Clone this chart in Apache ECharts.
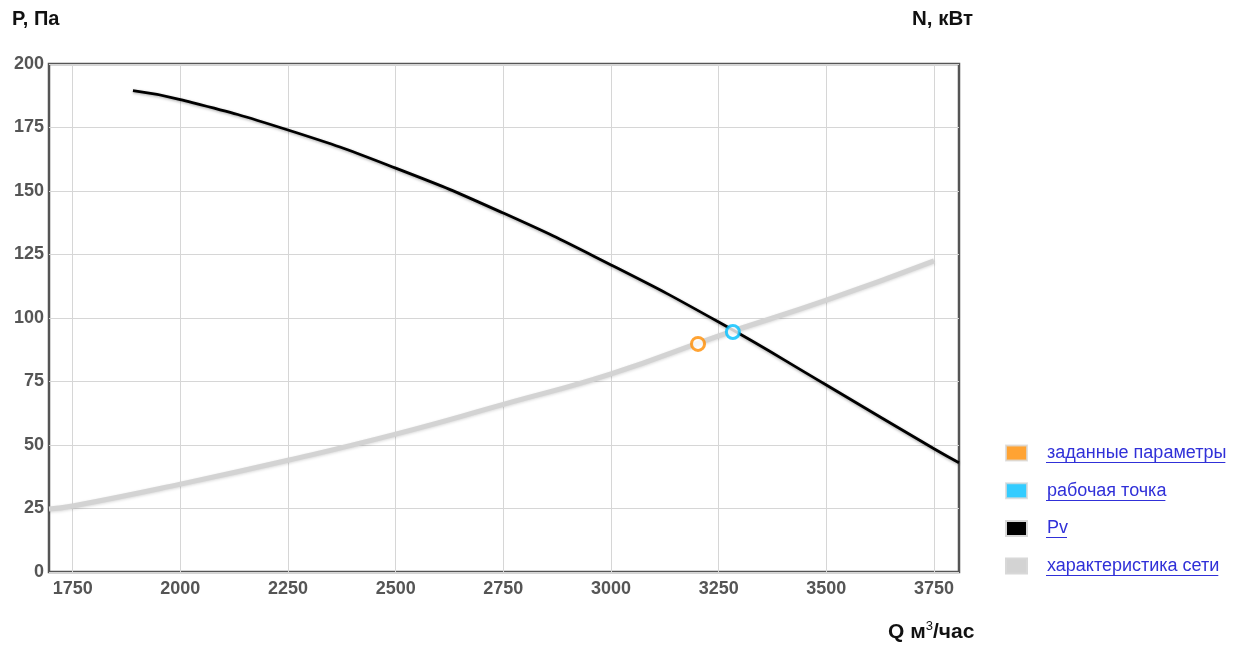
<!DOCTYPE html>
<html>
<head>
<meta charset="utf-8">
<script src="https://cdn.jsdelivr.net/npm/echarts@6/dist/echarts.min.js"></script>
<style>
html,body{margin:0;padding:0;background:#fff;}
#chart{width:1241px;height:646px;}
</style>
</head>
<body>
<div id="chart"></div>
<script>
// ---- data ----
var xTicks = [1750, 2000, 2250, 2500, 2750, 3000, 3250, 3500, 3750];
var qMin = 1695, qMax = 3808;
var pvQ = [1890, 2000, 2250, 2500, 2750, 3000, 3250, 3500, 3750, 3808];
var pvP = [189.5, 186, 174, 159, 141.3, 120.9, 98.4, 73.6, 48.5, 43];
var netQ = [1695, 1750, 2000, 2250, 2500, 2750, 3000, 3250, 3500, 3750];
var netP = [24.8, 26, 34.6, 44, 54.3, 66, 78, 93, 107, 122.5];
var setPoint = [3202, 89.8];
var workPoint = [3283, 94.5];
var legendNames = ['заданные параметры', 'рабочая точка', 'Pv', 'характеристика сети'];
var legendColors = ['#ff8c00', '#00bfff', '#000000', '#d3d3d3'];

function zip(a, b) { return a.map(function (v, i) { return [v, b[i]]; }); }

var chart = echarts.init(document.getElementById('chart'));

var FF = '"Liberation Sans", Arial, sans-serif';
var legendFont = '18px ' + FF;
var legendLeft = 1005, legendTop = 444, itemBoxH = 18, rowStep = 37.7;
var textX = 1046;
var ctx = document.createElement('canvas').getContext('2d');
ctx.font = legendFont;
var underlines = legendNames.map(function (n, i) {
  var w = ctx.measureText(n).width;
  var y = Math.round(legendTop + i * rowStep + itemBoxH / 2 + 9) + 0.5;
  return {
    type: 'line',
    shape: { x1: textX, y1: y, x2: textX + w, y2: y },
    style: { stroke: '#3030d8', lineWidth: 1 },
    silent: true
  };
});

var option = {
  backgroundColor: '#fff',
  animation: false,
  grid: {
    left: 49, top: 64, right: 282, bottom: 74,
    show: true, borderColor: '#555', borderWidth: 2.5, backgroundColor: 'transparent'
  },
  xAxis: {
    type: 'value', min: qMin, max: qMax,
    axisLine: { show: false },
    axisTick: { show: false, customValues: xTicks },
    axisLabel: { customValues: xTicks, color: '#555', fontSize: 18, fontWeight: 'bold',
      fontFamily: FF, margin: 8, formatter: function (v) { return String(v); } },
    splitLine: { show: true, lineStyle: { color: '#d6d6d6', width: 1 } }
  },
  yAxis: {
    type: 'value', min: 0, max: 200, interval: 25,
    axisLine: { show: false },
    axisTick: { show: false },
    axisLabel: { color: '#555', fontSize: 18, fontWeight: 'bold',
      fontFamily: FF, margin: 5 },
    splitLine: { show: true, lineStyle: { color: '#d6d6d6', width: 1 } }
  },
  legend: {
    orient: 'vertical', left: legendLeft, top: legendTop, padding: 0,
    itemWidth: 21, itemHeight: 15, itemGap: rowStep - itemBoxH,
    icon: 'rect',
    selectedMode: false,
    textStyle: { color: '#3030d8', fontSize: 18, fontFamily: FF,
      padding: [0, 0, 0, 15], lineHeight: itemBoxH },
    data: legendNames.map(function (n, i) {
      return { name: n, itemStyle: { color: legendColors[i], borderColor: '#d8d8d8', borderWidth: 2 } };
    })
  },
  graphic: [
    { type: 'text', left: 12, top: 9, style: { text: 'P, Па', fill: '#111', font: 'bold 20px ' + FF } },
    { type: 'text', left: 912, top: 9, style: { text: 'N, кВт', fill: '#111', font: 'bold 20.5px ' + FF } },
    { type: 'text', left: 888, top: 620, style: {
        text: '{a|Q м}{s|3}{a|/час}',
        rich: {
          a: { fill: '#111', font: 'bold 21px ' + FF, verticalAlign: 'bottom' },
          s: { fill: '#111', font: '13px ' + FF, verticalAlign: 'top', padding: [0, 0, 10, 0] }
        }
      } }
  ].concat(underlines),
  series: [
    {
      name: 'характеристика сети', type: 'line', smooth: true, symbol: 'none', z: 2,
      data: zip(netQ, netP),
      lineStyle: { color: '#d3d3d3', width: 5, shadowColor: 'rgba(0,0,0,0.15)', shadowBlur: 3, shadowOffsetY: 1 },
      itemStyle: { color: '#d3d3d3' }
    },
    {
      name: 'Pv', type: 'line', smooth: true, symbol: 'none', z: 3,
      data: zip(pvQ, pvP),
      lineStyle: { color: '#000', width: 2.8, shadowColor: 'rgba(0,0,0,0.35)', shadowBlur: 3, shadowOffsetY: 1 },
      itemStyle: { color: '#000' }
    },
    {
      name: 'заданные параметры', type: 'scatter', z: 5,
      data: [setPoint], symbol: 'circle', symbolSize: 13,
      itemStyle: { color: '#fff', borderColor: '#ff8c00', borderWidth: 3 }
    },
    {
      name: 'рабочая точка', type: 'scatter', z: 5,
      data: [workPoint], symbol: 'circle', symbolSize: 13,
      itemStyle: { color: '#fff', borderColor: '#00bfff', borderWidth: 3 }
    }
  ]
};
chart.setOption(option);
</script>
</body>
</html>
